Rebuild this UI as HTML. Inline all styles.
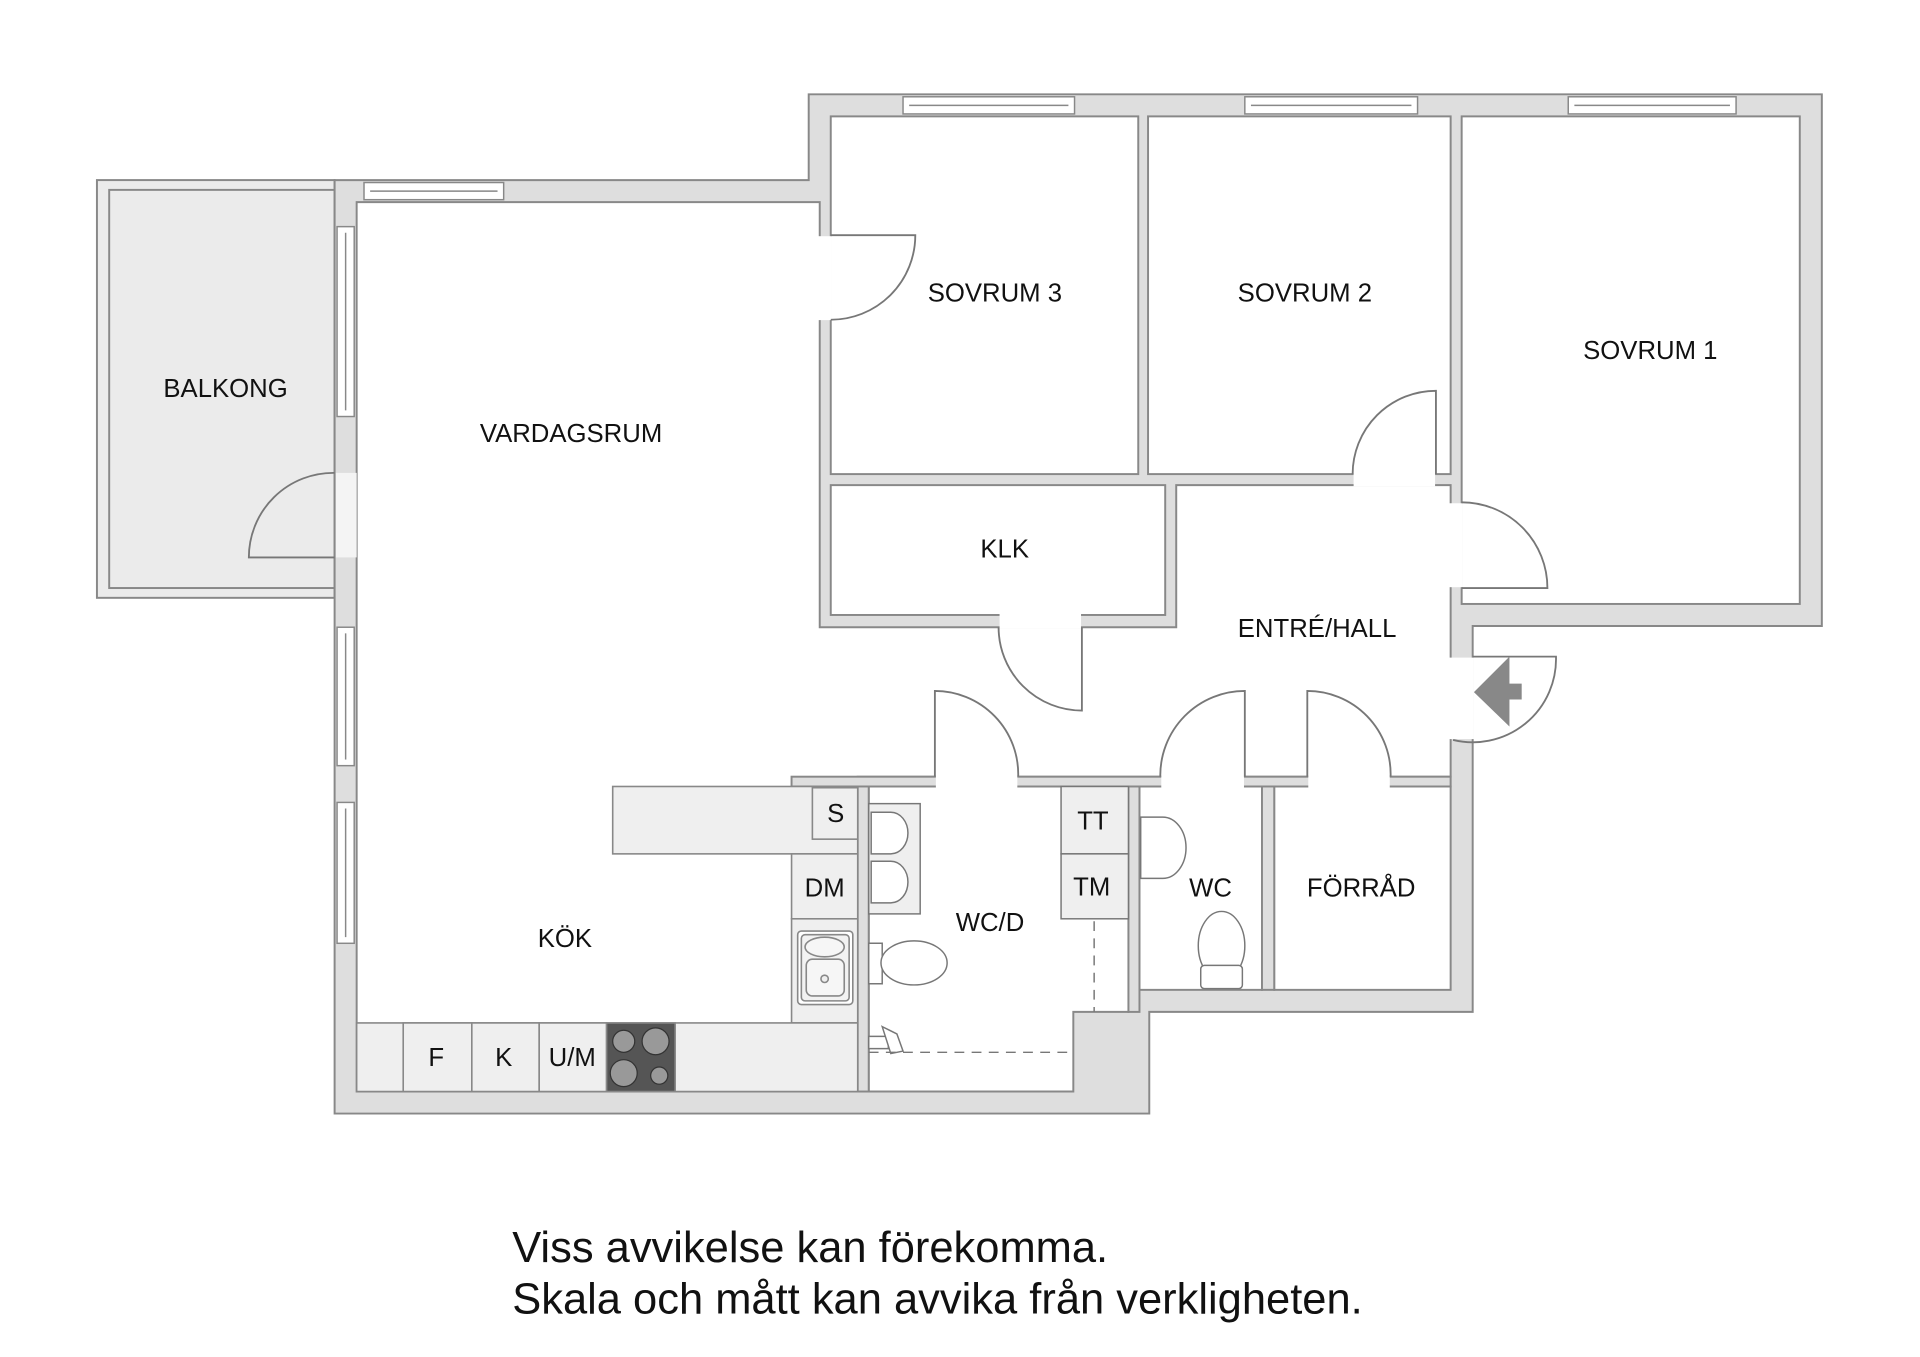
<!DOCTYPE html>
<html><head><meta charset="utf-8"><style>
html,body{margin:0;padding:0;background:#fff;}
svg{display:block}
text{font-family:"Liberation Sans",sans-serif;fill:#111;}
</style></head><body>
<svg width="1920" height="1357" viewBox="0 0 1567 1107.7" xmlns="http://www.w3.org/2000/svg">
<g stroke="#888" stroke-width="1.6">
<rect x="79" y="147" width="194" height="341" fill="#ebebeb"/>
<rect x="89" y="155" width="184" height="325" fill="#ebebeb"/>
<polygon points="273,147 660,147 660,77 1487,77 1487,511 1202,511 1202,826 938,826 938,909 273,909" fill="#dedede"/>
<polygon points="291,165 669,165 669,512 960,512 960,396 1184,396 1184,634 700,634 700,891 291,891" fill="#fff"/>
<rect x="678" y="95" width="251" height="292" fill="#fff"/>
<rect x="937" y="95" width="247" height="292" fill="#fff"/>
<rect x="1193" y="95" width="276" height="398" fill="#fff"/>
<rect x="678" y="396" width="273" height="106" fill="#fff"/>
<polygon points="709,642 921,642 921,826 876,826 876,891 709,891" fill="#fff"/>
<rect x="930" y="642" width="100" height="166" fill="#fff"/>
<rect x="1040" y="642" width="144" height="166" fill="#fff"/>
<rect x="646" y="634" width="538" height="8" fill="#dedede"/>
<rect x="700" y="642" width="9" height="249" fill="#dedede"/>
<rect x="921" y="642" width="9" height="184" fill="#dedede"/>
<rect x="1030" y="642" width="10" height="166" fill="#dedede"/>
</g>
<g fill="#fff">
<rect x="668" y="192.8" width="11" height="68.5"/>
<rect x="1104.8" y="386" width="66.5" height="11"/>
<rect x="1183" y="410.8" width="11" height="68.5"/>
<rect x="815.8" y="501" width="66.5" height="12"/>
<rect x="274" y="386" width="17" height="69" fill="#f4f4f4"/>
<rect x="763.8" y="633" width="66.5" height="10"/>
<rect x="947.8" y="633" width="67.5" height="10"/>
<rect x="1067.8" y="633" width="66.5" height="10"/>
<rect x="1183" y="536.8" width="20" height="66.5"/>
</g>
<g fill="none" stroke="#777" stroke-width="1.5">
<path d="M678,192 H747 A69,69 0 0 1 678,261"/>
<path d="M1172,387 V319 A68,68 0 0 0 1104,387"/>
<path d="M1193,480 H1263 A70,70 0 0 0 1193,410"/>
<path d="M883,512 V580 A68,68 0 0 1 815,512"/>
<path d="M273,455 H203 A69,69 0 0 1 273,386"/>
<path d="M763,634 V564 A68,68 0 0 1 831,634"/>
<path d="M1016,634 V564 A69,69 0 0 0 947,634"/>
<path d="M1067,634 V564 A68,68 0 0 1 1135,634"/>
<path d="M1202,536 H1270 A68,68 0 0 1 1186,604"/>
</g>
<polygon points="1203,565 1232,536 1232,558 1242,558 1242,571 1232,571 1232,593" fill="#888"/>
<g fill="#fff" stroke="#888" stroke-width="1.2">
<rect x="737" y="79" width="140" height="14"/><line x1="742" y1="86" x2="872" y2="86"/>
<rect x="1016" y="79" width="141" height="14"/><line x1="1021" y1="86" x2="1152" y2="86"/>
<rect x="1280" y="79" width="137" height="14"/><line x1="1285" y1="86" x2="1412" y2="86"/>
<rect x="297" y="149" width="114" height="14"/><line x1="302" y1="156" x2="406" y2="156"/>
<rect x="275" y="185" width="14" height="155"/><line x1="282" y1="190" x2="282" y2="335"/>
<rect x="275" y="512" width="14" height="113"/><line x1="282" y1="517" x2="282" y2="620"/>
<rect x="275" y="655" width="14" height="115"/><line x1="282" y1="660" x2="282" y2="765"/>
</g>
<g stroke="#888" stroke-width="1.3" fill="#efefef">
<rect x="500" y="642" width="200" height="55"/>
<rect x="663" y="643" width="37" height="42"/>
<rect x="646" y="697" width="54" height="53"/>
<rect x="646" y="750" width="54" height="85"/>
<rect x="291" y="835" width="409" height="56"/>
<rect x="329" y="835" width="56" height="56"/>
<rect x="385" y="835" width="55" height="56"/>
<rect x="440" y="835" width="55" height="56"/>
<rect x="495" y="835" width="56" height="56" fill="#555"/>
<rect x="651" y="760" width="45" height="60" rx="3" fill="#fff"/>
<rect x="654" y="763" width="39" height="54" rx="3" fill="#f2f2f2"/>
<ellipse cx="673" cy="773" rx="16" ry="8" fill="#f6f6f6"/>
<rect x="658" y="783" width="31" height="30" rx="5" fill="#f6f6f6"/>
<circle cx="673" cy="799" r="3"/>
</g>
<g fill="#999" stroke="#333" stroke-width="1">
<circle cx="509" cy="850" r="9"/><circle cx="535" cy="850" r="11"/>
<circle cx="509" cy="876" r="11"/><circle cx="538" cy="878" r="7"/>
</g>
<g stroke="#777" stroke-width="1.2" fill="#efefef">
<rect x="709" y="656" width="42" height="90"/>
<path d="M711,663 H727 A14,17 0 0 1 727,697 H711 Z" fill="#fff"/>
<path d="M711,703 H727 A14,17 0 0 1 727,737 H711 Z" fill="#fff"/>
<rect x="866" y="642" width="55" height="55"/>
<rect x="866" y="697" width="55" height="53"/>
<path d="M709,770 H720 V803 H709 Z" fill="#fff"/>
<ellipse cx="746" cy="786" rx="27" ry="18" fill="#fff"/>
<path d="M709,846 H725 V856 H709 Z" fill="#fff"/>
<path d="M720,838 L732,844 L737,858 L727,860 Z" fill="#fff"/>
<path d="M931,667 H949 A19,25 0 0 1 949,717 H931 Z" fill="#fff"/>
<ellipse cx="997" cy="772" rx="19" ry="28" fill="#fff"/>
<rect x="980" y="788" width="34" height="19" rx="3" fill="#fff"/>
</g>
<g stroke="#777" stroke-width="1.2" stroke-dasharray="8,6" fill="none">
<line x1="893" y1="752" x2="893" y2="826"/>
<line x1="709" y1="859" x2="876" y2="859"/>
</g>
<g font-size="21" text-anchor="middle">
<text x="812" y="246">SOVRUM 3</text>
<text x="1065" y="246">SOVRUM 2</text>
<text x="1347" y="293">SOVRUM 1</text>
<text x="184" y="324">BALKONG</text>
<text x="466" y="361">VARDAGSRUM</text>
<text x="820" y="455">KLK</text>
<text x="1075" y="520">ENTRÉ/HALL</text>
<text x="682" y="671">S</text>
<text x="892" y="677">TT</text>
<text x="673" y="732">DM</text>
<text x="891" y="731">TM</text>
<text x="988" y="732">WC</text>
<text x="1111" y="732">FÖRRÅD</text>
<text x="808" y="760">WC/D</text>
<text x="461" y="773">KÖK</text>
<text x="356" y="870">F</text>
<text x="411" y="870">K</text>
<text x="467" y="870">U/M</text>
</g>
<g font-size="35.5">
<text x="418" y="1030">Viss avvikelse kan förekomma.</text>
<text x="418" y="1072">Skala och mått kan avvika från verkligheten.</text>
</g>
</svg>
</body></html>
